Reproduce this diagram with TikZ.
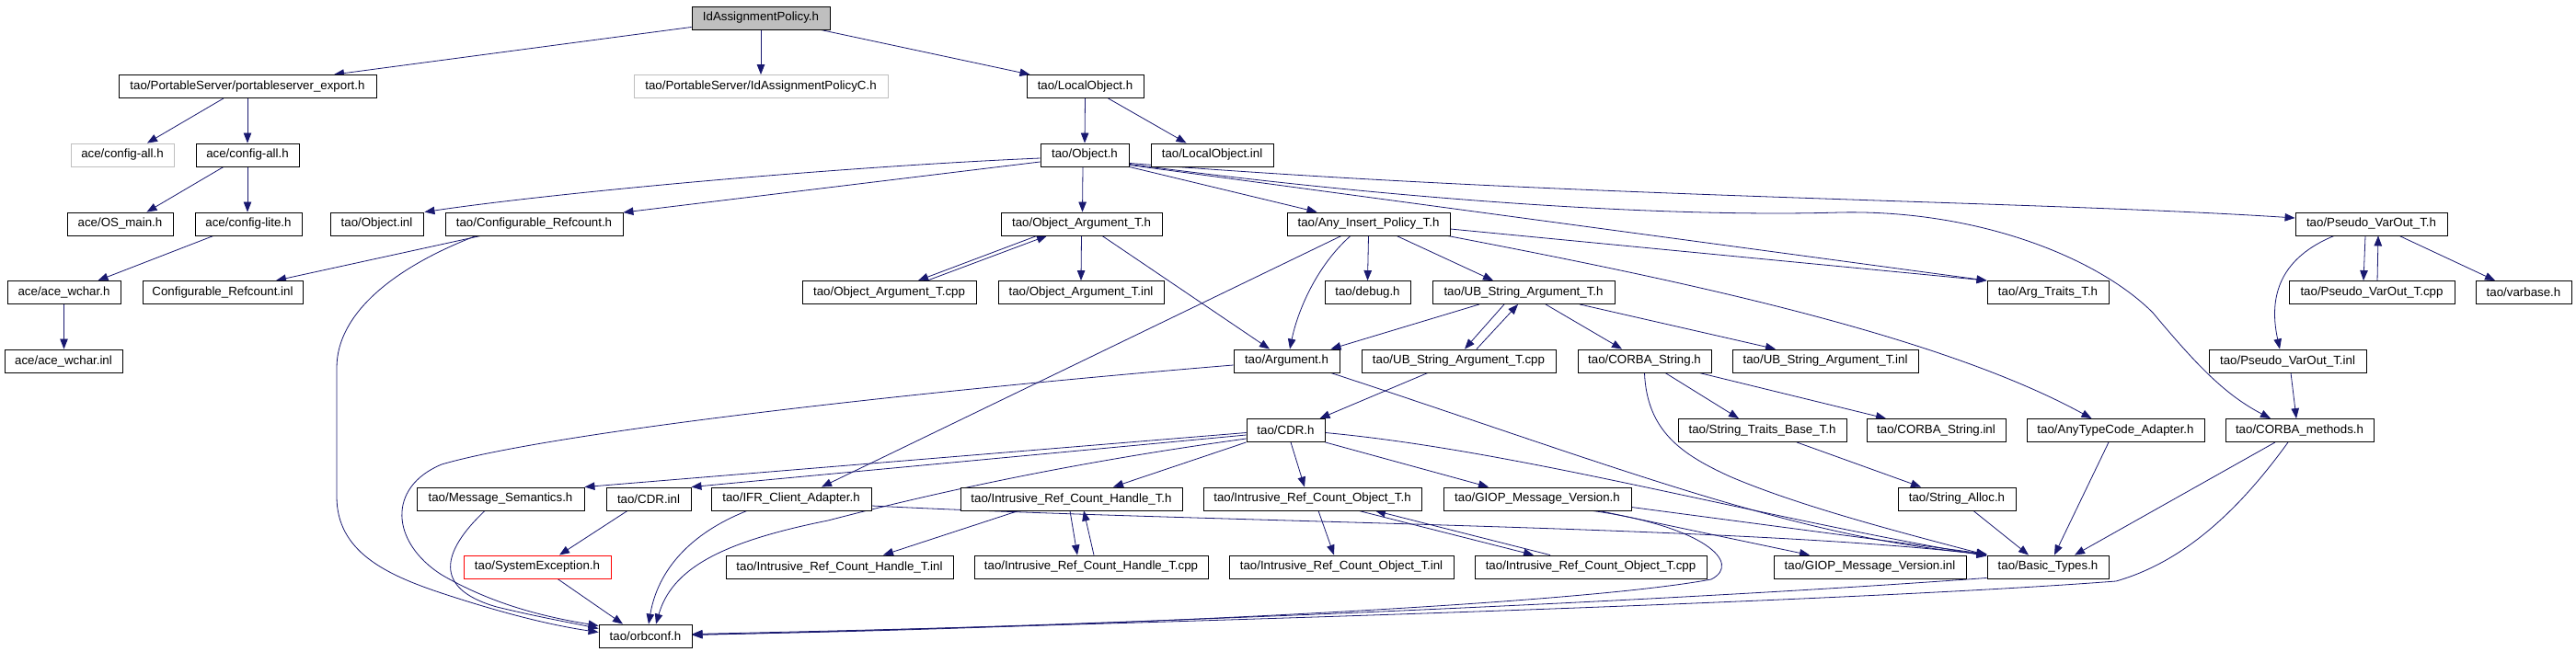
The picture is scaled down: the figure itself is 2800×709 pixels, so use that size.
\documentclass[tikz,border=0pt]{standalone}
\usepackage{fontspec}
\setmainfont{Liberation Sans}
\usetikzlibrary{arrows.meta}
\definecolor{edgec}{HTML}{191970}
\definecolor{grayc}{HTML}{BFBFBF}
\pgfdeclarelayer{bg}
\pgfsetlayers{bg,main}
\tikzset{
  box/.style={draw=black, line width=0.9pt, fill=white, minimum height=25pt, inner sep=0pt, font=\fontsize{13.3}{15}\selectfont},
  graybox/.style={box, draw=grayc},
  redbox/.style={box, draw=red},
  rootbox/.style={box, fill=grayc},
  e/.style={draw=edgec, line width=0.8pt, -{Triangle[length=11pt,width=8.5pt,fill=edgec]}}
}
\begin{document}
\begin{tikzpicture}[x=1pt,y=-1pt]
\useasboundingbox (0,0) rectangle (2800,709);
% row 1
\node[rootbox, minimum width=150] (ida) at (827,19.5) {IdAssignmentPolicy.h};
% row 2
\node[box, minimum width=280] (pse) at (269,94) {tao/PortableServer/portableserver\_export.h};
\node[graybox, minimum width=276] (idc) at (827,94) {tao/PortableServer/IdAssignmentPolicyC.h};
\node[box, minimum width=127] (lo) at (1179.5,94) {tao/LocalObject.h};
% row 3
\node[graybox, minimum width=112] (cag) at (133,168.5) {ace/config-all.h};
\node[box, minimum width=112] (ca) at (269,168.5) {ace/config-all.h};
\node[box, minimum width=96] (obj) at (1179,168.5) {tao/Object.h};
\node[box, minimum width=133] (loi) at (1317.5,168.5) {tao/LocalObject.inl};
% row 4
\node[box, minimum width=115] (osm) at (130.5,243.5) {ace/OS\_main.h};
\node[box, minimum width=116] (cl) at (270,243.5) {ace/config-lite.h};
\node[box, minimum width=101] (oinl) at (409.5,243.5) {tao/Object.inl};
\node[box, minimum width=193] (crh) at (580.5,243.5) {tao/Configurable\_Refcount.h};
\node[box, minimum width=175] (oah) at (1175.5,243.5) {tao/Object\_Argument\_T.h};
\node[box, minimum width=177] (aip) at (1487.5,243.5) {tao/Any\_Insert\_Policy\_T.h};
\node[box, minimum width=165] (pvh) at (2577.5,243.5) {tao/Pseudo\_VarOut\_T.h};
% row 5
\node[box, minimum width=123] (awh) at (69.5,318) {ace/ace\_wchar.h};
\node[box, minimum width=174] (cri) at (242,318) {Configurable\_Refcount.inl};
\node[box, minimum width=189] (oacpp) at (966.5,318) {tao/Object\_Argument\_T.cpp};
\node[box, minimum width=180] (oainl) at (1175,318) {tao/Object\_Argument\_T.inl};
\node[box, minimum width=93] (dbg) at (1486.5,318) {tao/debug.h};
\node[box, minimum width=198] (ubh) at (1656,318) {tao/UB\_String\_Argument\_T.h};
\node[box, minimum width=132] (atr) at (2226,318) {tao/Arg\_Traits\_T.h};
\node[box, minimum width=180] (pvcpp) at (2578,318) {tao/Pseudo\_VarOut\_T.cpp};
\node[box, minimum width=104] (vb) at (2743,318) {tao/varbase.h};
% row 6
\node[box, minimum width=128] (awi) at (69,392.5) {ace/ace\_wchar.inl};
\node[box, minimum width=115] (arg) at (1398.5,392.5) {tao/Argument.h};
\node[box, minimum width=211] (ubcpp) at (1585.5,392.5) {tao/UB\_String\_Argument\_T.cpp};
\node[box, minimum width=145] (csh) at (1787.5,392.5) {tao/CORBA\_String.h};
\node[box, minimum width=202] (ubinl) at (1984,392.5) {tao/UB\_String\_Argument\_T.inl};
\node[box, minimum width=171] (pvinl) at (2486.5,392.5) {tao/Pseudo\_VarOut\_T.inl};
% row 7
\node[box, minimum width=85] (cdr) at (1397.5,468) {tao/CDR.h};
\node[box, minimum width=183] (stb) at (1915.5,468) {tao/String\_Traits\_Base\_T.h};
\node[box, minimum width=151] (csinl) at (2104.5,468) {tao/CORBA\_String.inl};
\node[box, minimum width=193] (atca) at (2299.5,468) {tao/AnyTypeCode\_Adapter.h};
\node[box, minimum width=161] (cm) at (2499.5,468) {tao/CORBA\_methods.h};
% row 8
\node[box, minimum width=182] (ms) at (544,542.5) {tao/Message\_Semantics.h};
\node[box, minimum width=92] (cdri) at (705,542.5) {tao/CDR.inl};
\node[box, minimum width=174] (ifr) at (860,542.5) {tao/IFR\_Client\_Adapter.h};
\node[box, minimum width=241] (irhh) at (1164.5,542.5) {tao/Intrusive\_Ref\_Count\_Handle\_T.h};
\node[box, minimum width=237] (iroh) at (1426.5,542.5) {tao/Intrusive\_Ref\_Count\_Object\_T.h};
\node[box, minimum width=204] (gmvh) at (1671,542.5) {tao/GIOP\_Message\_Version.h};
\node[box, minimum width=128] (sa) at (2127,542.5) {tao/String\_Alloc.h};
% row 9
\node[redbox, minimum width=160] (se) at (584,616.5) {tao/SystemException.h};
\node[box, minimum width=247] (irhi) at (912.5,616.5) {tao/Intrusive\_Ref\_Count\_Handle\_T.inl};
\node[box, minimum width=254] (irhc) at (1186,616.5) {tao/Intrusive\_Ref\_Count\_Handle\_T.cpp};
\node[box, minimum width=244] (iroi) at (1458,616.5) {tao/Intrusive\_Ref\_Count\_Object\_T.inl};
\node[box, minimum width=252] (iroc) at (1729,616.5) {tao/Intrusive\_Ref\_Count\_Object\_T.cpp};
\node[box, minimum width=209] (gmvi) at (2032.5,616.5) {tao/GIOP\_Message\_Version.inl};
\node[box, minimum width=132] (bt) at (2226,616.5) {tao/Basic\_Types.h};
% row 10
\node[box, minimum width=101] (orb) at (701.5,691.5) {tao/orbconf.h};

\begin{pgfonlayer}{bg}
\draw[e] ([yshift=3]ida.south west) -- ([xshift=94]pse.north);
\draw[e] (ida.south) -- (idc.north);
\draw[e] ([xshift=65]ida.south) -- ([xshift=-60]lo.north);
\draw[e] ([xshift=-26]pse.south) -- ([xshift=27]cag.north);
\draw[e] (pse.south) -- (ca.north);
\draw[e] ([xshift=-26]ca.south) -- ([xshift=29]osm.north);
\draw[e] (ca.south) -- ([xshift=-1]cl.north);
\draw[e] ([xshift=-38]cl.south) -- ([xshift=37]awh.north);
\draw[e] (awh.south) -- ([xshift=0.5]awi.north);
\draw[e] (lo.south) -- (obj.north);
\draw[e] ([xshift=25]lo.south) -- ([xshift=-28]loi.north);
\draw[e] ([yshift=-3.5]obj.west) .. controls (900,182) and (600,210) .. ([xshift=1]oinl.north east);
\draw[e] ([yshift=-7.5]obj.west) -- ([yshift=-0.5]crh.north east);
\draw[e] ([xshift=-2]obj.south) -- ([xshift=1]oah.north);
\draw[e] (obj.south east) -- ([xshift=-56]aip.north);
\draw[e] ([yshift=2]obj.south east) -- (atr.north west);
\draw[e] ([yshift=4]obj.south east) .. controls (1700,215) and (2200,218) .. ([yshift=6.5]pvh.west);
\draw[e] ([yshift=3]obj.south east) .. controls (1500,215) and (1800,237) .. (2000,231) .. controls (2150,228) and (2280,280) .. (2340,340) .. controls (2390,400) and (2420,430) .. ([xshift=-31.5]cm.north);
\draw[e] ([xshift=-58]crh.south) -- ([xshift=58]cri.north);
\draw[e] ([xshift=-63]crh.south) .. controls (430,290) and (366,340) .. (366,400) -- (366,540) .. controls (366,600) and (420,625) .. (480,645) .. controls (550,668) and (600,680) .. ([yshift=4]orb.west);
\draw[e] ([xshift=-48.5]oah.south) -- ([xshift=31.5]oacpp.north);
\draw[e] ([xshift=41.5]oacpp.north) -- ([xshift=-37.5]oah.south);
\draw[e] (oah.south) -- (oainl.north);
\draw[e] ([xshift=22.5]oah.south) -- ([xshift=-18.5]arg.north);
\draw[e] (aip.south) -- (dbg.north);
\draw[e] ([xshift=30.5]aip.south) -- ([xshift=-33]ubh.north);
\draw[e] ([xshift=-19.5]aip.south) .. controls (1430,290) and (1410,340) .. ([xshift=3.5]arg.north);
\draw[e] ([xshift=-29.5]aip.south) -- ([xshift=33]ifr.north);
\draw[e] ([yshift=-5.5]aip.east) -- (atr.north west);
\draw[e] ([xshift=-3]aip.south east) .. controls (1800,300) and (2100,360) .. ([xshift=-26]atca.north);
\draw[e] ([xshift=-48]ubh.south) -- ([xshift=48]arg.north);
\draw[e] ([xshift=-21]ubh.south) -- ([xshift=6.5]ubcpp.north);
\draw[e] ([xshift=19.5]ubcpp.north) -- ([xshift=-6]ubh.south);
\draw[e] ([xshift=24]ubh.south) -- ([xshift=-24.5]csh.north);
\draw[e] ([xshift=61]ubh.south) -- ([xshift=-54]ubinl.north);
\draw[e] ([xshift=-33.5]ubcpp.south) -- ([xshift=37]cdr.north);
\draw[e] ([yshift=-4.5]arg.west) .. controls (1000,425) and (600,470) .. (480,505) .. controls (420,530) and (425,590) .. (480,625) .. controls (540,660) and (600,672) .. ([yshift=11]orb.west);
\draw[e] ([xshift=48]arg.south) .. controls (1750,505) and (1950,585) .. ([yshift=1]bt.north west);
\draw[e] ([xshift=22.5]csh.south) -- ([xshift=-25.5]stb.north);
\draw[e] ([xshift=59.5]csh.south) -- ([xshift=-54.5]csinl.north);
\draw[e] (csh.south) .. controls (1790,470) and (1830,495) .. (1880,518) .. controls (1950,548) and (2050,575) .. (bt.north west);
\draw[e] ([xshift=37.5]stb.south) -- ([xshift=-39]sa.north);
\draw[e] ([xshift=18]sa.south) -- ([xshift=-21]bt.north);
\draw[e] ([xshift=-7.5]atca.south) -- ([xshift=7]bt.north);
\draw[e] ([xshift=-6.5]pvh.south) -- ([xshift=-9]pvcpp.north);
\draw[e] ([xshift=6]pvcpp.north) -- ([xshift=7.5]pvh.south);
\draw[e] ([xshift=30.5]pvh.south) -- ([xshift=-31]vb.north);
\draw[e] ([xshift=-40.5]pvh.south) .. controls (2480,280) and (2465,320) .. ([xshift=-8.5]pvinl.north);
\draw[e] ([xshift=3.5]pvinl.south) -- ([xshift=-3.5]cm.north);
\draw[e] ([xshift=-26.5]cm.south) -- ([xshift=29]bt.north);
\draw[e] ([xshift=-12.5]cm.south) .. controls (2430,560) and (2370,612) .. (2300,632) .. controls (2000,655) and (1200,680) .. ([yshift=2]orb.east);
\draw[e] ([yshift=1]bt.south west) .. controls (1800,655) and (1200,680) .. ([yshift=1]orb.east);
\draw[e] ([yshift=-2.5]cdr.west) -- (ms.north east);
\draw[e] ([yshift=-5]cdr.west) -- (cdri.north east);
\draw[e] (cdr.south west) -- ([xshift=45.5]irhh.north);
\draw[e] ([xshift=5.5]cdr.south) -- ([xshift=-8.5]iroh.north);
\draw[e] (cdr.south east) -- ([xshift=-53]gmvh.north);
\draw[e] ([yshift=-2.5]cdr.east) .. controls (1650,490) and (1900,560) .. ([yshift=-1]bt.north west);
\draw[e] ([yshift=-9]cdr.west) .. controls (1150,505) and (1000,540) .. (900,566) .. controls (780,590) and (730,620) .. ([xshift=11.5]orb.north);
\draw[e] ([xshift=-48]ifr.south) .. controls (750,580) and (715,620) .. ([xshift=3.5]orb.north);
\draw[e] ([xshift=-17]ms.south) .. controls (480,600) and (470,640) .. (540,660) .. controls (590,672) and (620,677) .. ([yshift=8]orb.west);
\draw[e] ([xshift=-23]cdri.south) -- ([xshift=24]se.north);
\draw[e] ([xshift=22]se.south) -- ([xshift=-24.5]orb.north);
\draw[e] ([xshift=-57.5]irhh.south) -- ([xshift=47.5]irhi.north);
\draw[e] ([xshift=-1.5]irhh.south) -- ([xshift=-15]irhc.north);
\draw[e] ([xshift=3]irhc.north) -- ([xshift=13.5]irhh.south);
\draw[e] ([xshift=6.5]iroh.south) -- ([xshift=-8]iroi.north);
\draw[e] ([xshift=50.5]iroh.south) -- ([xshift=-62]iroc.north);
\draw[e] ([xshift=-44]iroc.north) -- ([xshift=68.5]iroh.south);
\draw[e] ([xshift=67]gmvh.south) -- ([xshift=-65.5]gmvi.north);
\draw[e] ([yshift=-9]gmvh.east) -- ([yshift=1]bt.north west);
\draw[e] ([xshift=60]gmvh.south) .. controls (1850,572) and (1895,612) .. (1860,630) .. controls (1700,660) and (1100,685) .. ([yshift=1.5]orb.east);
\draw[e] ([yshift=-7.5]ifr.east) .. controls (1300,568) and (1900,572) .. (bt.north west);
\end{pgfonlayer}
\end{tikzpicture}
\end{document}
